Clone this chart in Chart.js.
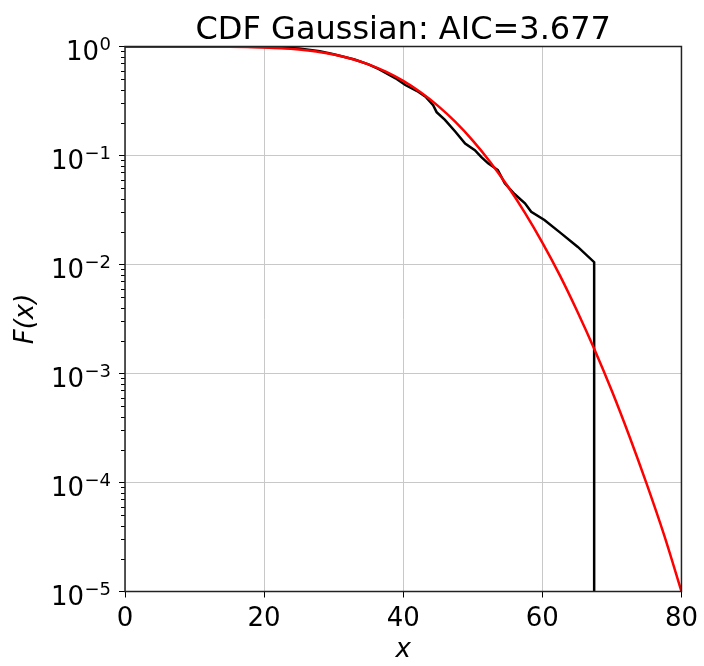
<!DOCTYPE html>
<html>
<head>
<meta charset="utf-8">
<script src="https://cdn.jsdelivr.net/npm/chart.js@4.4.0/dist/chart.umd.min.js"></script>
<style>
  body { margin: 0; background: #fff; }
  canvas { display: block; }
</style>
</head>
<body>
<canvas id="cdf" width="704" height="666"></canvas>
<script>
// empirical tail of the sample
const empiricalX = [0, 15, 20, 25, 28, 30, 33, 35, 36.5, 38.9, 40.3, 42, 43.2, 44.3, 44.8, 46.0, 47.5,
  48.9, 50.3, 51.2, 52.2, 53.6, 54.6, 56.0, 57.5, 58.4, 60.3, 62.7, 65.1, 67.45, 67.45];
const empiricalF = [1, 0.999, 0.992, 0.957, 0.905, 0.85, 0.76, 0.685, 0.62, 0.511, 0.443, 0.39, 0.346, 0.29, 0.25, 0.212, 0.165,
  0.129, 0.112, 0.097, 0.0848, 0.0736, 0.0556, 0.0443, 0.0364, 0.0305, 0.0256, 0.0193, 0.0145, 0.0105, 1e-5];

// fitted gaussian tail
const gaussX = [0, 5, 10, 15, 17.5, 20, 22.5, 25, 27.5, 30, 32.5, 35, 37.5, 40, 42.5, 45, 47.5,
  50, 52.5, 55, 57.5, 60, 62.5, 65, 67.5, 70, 72.5, 75, 77.5, 80];
const gaussF = [1, 0.99986, 0.99908, 0.9952, 0.990, 0.980, 0.964, 0.938, 0.899, 0.844, 0.772, 0.686, 0.587, 0.483, 0.380, 0.285, 0.203,
  0.137, 0.0873, 0.0525, 0.0298, 0.0159, 0.0080, 0.00375, 0.00166, 0.00069, 0.000267, 0.000097, 0.000033, 0.00001];

const xTicks = [0, 20, 40, 60, 80];
const yTicks = [1e-5, 1e-4, 1e-3, 1e-2, 1e-1, 1];

const titleText = 'CDF Gaussian: AIC=3.677';
const xLabel = 'x';
const yLabel = 'F(x)';

const FONT = 'DejaVu Sans';
Chart.defaults.font.family = FONT;
Chart.defaults.color = '#000';

function toPoints(xs, ys) {
  return xs.map((x, i) => ({ x: x, y: ys[i] }));
}

function expText(n) {
  return String(n).replace('-', '\u2212');
}

// title, axis labels, minor log ticks, 10^k tick labels and the frame
const axisDecor = {
  id: 'axisDecor',
  afterDraw(chart) {
    const { ctx, chartArea: a, scales: { y } } = chart;
    ctx.save();
    ctx.strokeStyle = '#000';
    ctx.lineWidth = 1;
    for (let k = -5; k < 0; k++) {
      for (let m = 2; m <= 9; m++) {
        const py = Math.round(y.getPixelForValue(m * Math.pow(10, k))) + 0.5;
        ctx.beginPath();
        ctx.moveTo(a.left - 4, py);
        ctx.lineTo(a.left, py);
        ctx.stroke();
      }
    }

    ctx.fillStyle = '#000';
    ctx.textBaseline = 'alphabetic';
    for (const v of yTicks) {
      const py = y.getPixelForValue(v);
      const exp = expText(Math.round(Math.log10(v)));
      ctx.font = '18px "' + FONT + '"';
      const ew = ctx.measureText(exp).width;
      const ex = 111 - ew;
      ctx.textAlign = 'left';
      ctx.fillText(exp, ex, py + 3.5);
      ctx.font = '26px "' + FONT + '"';
      ctx.textAlign = 'right';
      ctx.fillText('10', ex - 0.5, py + 13.5);
    }

    const cx = (a.left + a.right) / 2;
    const cy = (a.top + a.bottom) / 2;
    ctx.textAlign = 'center';
    ctx.font = '32px "' + FONT + '"';
    ctx.fillText(titleText, cx, 38.5);
    ctx.font = 'italic 26px "' + FONT + '"';
    ctx.fillText(xLabel, cx, 657);
    ctx.save();
    ctx.translate(33, cy);
    ctx.rotate(-Math.PI / 2);
    ctx.fillText(yLabel, 0, 0);
    ctx.restore();

    ctx.strokeStyle = '#222';
    ctx.lineWidth = 1.5;
    ctx.strokeRect(a.left, a.top, a.right - a.left, a.bottom - a.top);
    ctx.restore();
  }
};

new Chart(document.getElementById('cdf'), {
  type: 'scatter',
  data: {
    datasets: [
      {
        data: toPoints(gaussX, gaussF),
        showLine: true,
        borderColor: '#ff0000',
        borderWidth: 2.5,
        pointRadius: 0,
        cubicInterpolationMode: 'monotone',
        order: 0
      },
      {
        data: toPoints(empiricalX, empiricalF),
        showLine: true,
        borderColor: '#000000',
        borderWidth: 2.5,
        pointRadius: 0,
        tension: 0,
        order: 1
      }
    ]
  },
  options: {
    responsive: false,
    animation: false,
    devicePixelRatio: 1,
    layout: { padding: { left: 0, right: 20, top: 46.5, bottom: 0 } },
    plugins: {
      legend: { display: false },
      tooltip: { enabled: false },
      title: { display: false }
    },
    scales: {
      x: {
        type: 'linear',
        min: 0,
        max: 80,
        afterBuildTicks: (s) => { s.ticks = xTicks.map(v => ({ value: v })); },
        afterFit: (s) => { s.height = 74.5; },
        ticks: { font: { size: 26 }, padding: 6, maxRotation: 0 },
        grid: { color: '#c8c8c8', lineWidth: 1, tickColor: '#000', tickLength: 6 },
        border: { display: false }
      },
      y: {
        type: 'logarithmic',
        min: 1e-5,
        max: 1,
        afterBuildTicks: (s) => { s.ticks = yTicks.map(v => ({ value: v })); },
        afterFit: (s) => { s.width = 125; },
        ticks: { display: false },
        grid: { color: '#c8c8c8', lineWidth: 1, tickColor: '#000', tickLength: 6 },
        border: { display: false }
      }
    }
  },
  plugins: [axisDecor]
});
</script>
</body>
</html>
